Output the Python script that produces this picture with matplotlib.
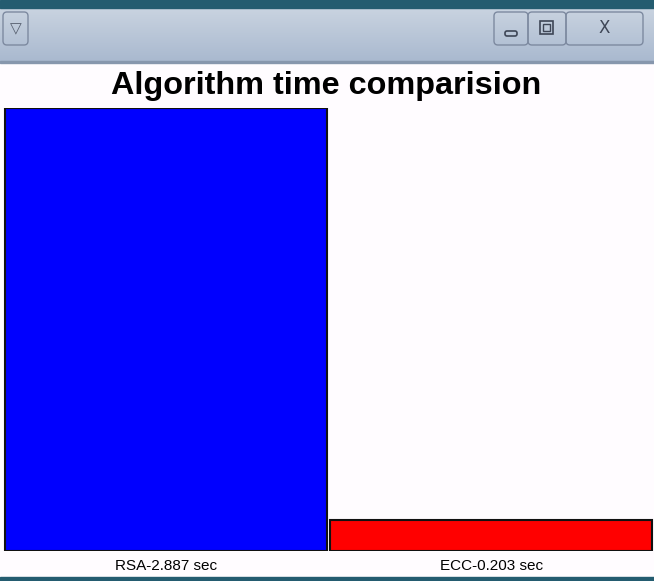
import matplotlib
matplotlib.use("Agg")
import matplotlib.pyplot as plt
from matplotlib.patches import Rectangle, FancyBboxPatch
import numpy as np

categories = ["RSA-2.887 sec", "ECC-0.203 sec"]
values = [2.887, 0.203]
colors = ["#0000ff", "#ff0000"]
title = "Algorithm time comparision"

W, H = 654, 581
fig = plt.figure(figsize=(W / 100, H / 100), dpi=100)
fig.patch.set_facecolor("#fffcff")

def fx(px):
    return px / W

def fy(py):
    return 1 - py / H

# window chrome
chrome = fig.add_axes([0, 0, 1, 1], zorder=-1)
chrome.set_xlim(0, W)
chrome.set_ylim(H, 0)
chrome.axis("off")
grad = np.linspace(0, 1, 50).reshape(-1, 1)
chrome.imshow(grad, extent=[0, W, 62, 8], cmap=matplotlib.colors.LinearSegmentedColormap.from_list(
    "g", ["#c9d3e0", "#a9b9cf"]), aspect="auto", zorder=0)
chrome.add_patch(Rectangle((0, 0), W, 8, color="#245c70", zorder=1))
chrome.add_patch(Rectangle((0, 61), W, 2, color="#8797ad", zorder=1))
chrome.add_patch(Rectangle((0, 577), W, 4, color="#245c70", zorder=1))
# buttons
for (x0, x1) in [(3, 28), (494, 528), (528, 566), (566, 643)]:
    chrome.add_patch(FancyBboxPatch((x0, 12), x1 - x0, 33, boxstyle="round,pad=0,rounding_size=4",
                                    fc="none", ec="#7d8aa0", lw=1, zorder=2))
chrome.text(15.5, 29, "▽", ha="center", va="center", fontsize=11, color="#555e6e", zorder=3)
chrome.add_patch(FancyBboxPatch((505, 31), 12, 5, boxstyle="round,pad=0,rounding_size=2",
                                fc="none", ec="#3e4656", lw=1.2, zorder=3))
chrome.add_patch(Rectangle((540, 21), 13, 13, fc="none", ec="#3e4656", lw=1.2, zorder=3))
chrome.add_patch(Rectangle((543, 24), 7, 7, fc="none", ec="#3e4656", lw=1, zorder=3))
chrome.text(604, 28, "X", ha="center", va="center", fontsize=12, color="#3e4656", zorder=3,
            family="DejaVu Sans")

fig.text(fx(326.5), fy(94), title, ha="center", va="baseline", fontsize=23.3, fontweight="bold",
         family="Liberation Sans")

ax = fig.add_axes([fx(3), fy(551), 1 - fx(3), fy(108) - fy(551)])
ax.set_facecolor("#fffcff")
x = np.arange(len(categories))
ax.bar(x, values, width=0.99, color=colors, edgecolor="#111111", linewidth=1.5)
ax.set_xlim(-0.5, 1.5)
ax.set_ylim(0, max(values))
ax.set_xticks(x)
ax.set_xticklabels(categories, fontsize=11, family="Liberation Sans")
ax.tick_params(axis="x", length=0, pad=6)
ax.set_yticks([])
for s in ax.spines.values():
    s.set_visible(False)

fig.savefig("out.png", dpi=100, facecolor=fig.get_facecolor())
